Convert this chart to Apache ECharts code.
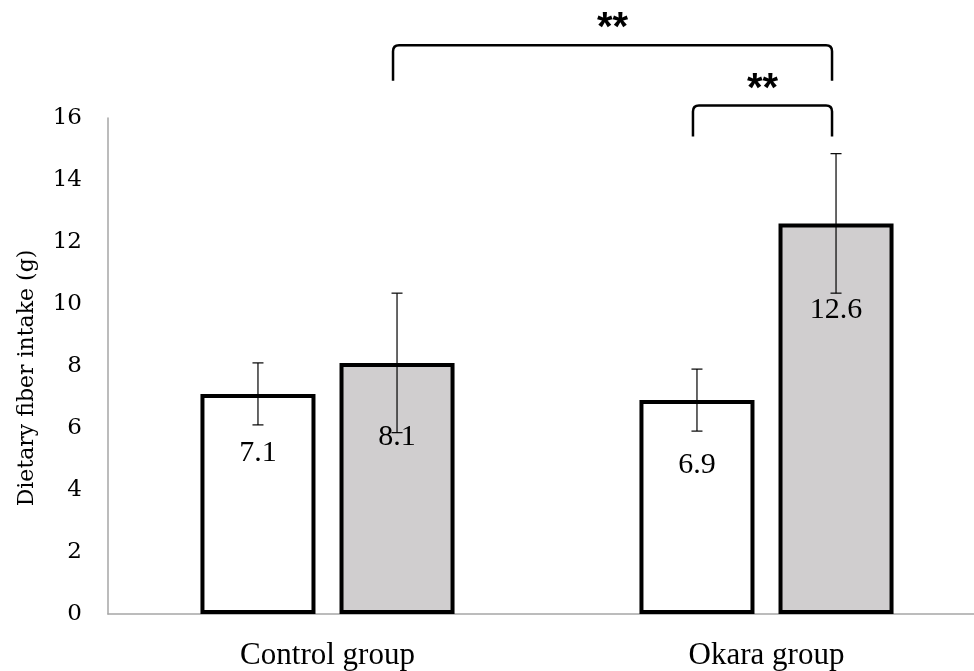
<!DOCTYPE html>
<html>
<head>
<meta charset="utf-8">
<script src="https://cdn.jsdelivr.net/npm/echarts@6/dist/echarts.min.js"></script>
<style>
  html, body { margin: 0; padding: 0; background: #fff; }
  #chart { width: 974px; height: 671px; }
</style>
</head>
<body>
<div id="chart"></div>
<script>
// Dietary fiber intake by group, before (white) and after (gray) the intervention
const categories = ['Control group', 'Okara group'];
const beforeMean = [7.1, 6.9];
const afterMean = [8.1, 12.6];
const beforeSD = [1.0, 1.0];
const afterSD = [2.25, 2.25];

// Significance brackets: [category, series] at each end, leg bottom / top in axis units
const bracketFrom = [[0, 1], [1, 0]];
const bracketTo = [[1, 1], [1, 1]];
const bracketBottom = [17.2, 15.4];
const bracketTop = [18.35, 16.4];
const bracketText = ['**', '**'];

// Layout constants
const BAR_FRAC = 0.262;      // bar width (incl. border) as a fraction of the category band
const GAP_FRAC = 0.209;      // gap between paired bars, as a fraction of bar width
const LEG_SHIFT = -4;        // bracket legs sit slightly left of bar centers
const labelInset = [[44, 50], [59, 72]]; // value label distance below bar top (px)

function barOffset(band, s) {
  const w = band * BAR_FRAC;
  const step = w * (1 + GAP_FRAC);
  return (s === 0 ? -0.5 : 0.5) * step;
}

const errorData = [];
beforeMean.forEach((m, i) => errorData.push([i, m, beforeSD[i], 0]));
afterMean.forEach((m, i) => errorData.push([i, m, afterSD[i], 1]));

const bracketData = bracketFrom.map((f, i) => [f[0], f[1], bracketTo[i][0], bracketTo[i][1], bracketBottom[i], bracketTop[i], i]);

function renderError(params, api) {
  const cat = api.value(0), mean = api.value(1), sd = api.value(2), s = api.value(3);
  const band = api.size([1, 0])[0];
  const x = api.coord([cat, mean])[0] + barOffset(band, s);
  const yHi = api.coord([cat, mean + sd])[1];
  const yLo = api.coord([cat, mean - sd])[1];
  const cap = 5.5;
  const st = { stroke: '#000', lineWidth: 1.2 };
  return {
    type: 'group',
    children: [
      { type: 'line', shape: { x1: x, y1: yHi, x2: x, y2: yLo }, style: st },
      { type: 'line', shape: { x1: x - cap, y1: yHi, x2: x + cap, y2: yHi }, style: st },
      { type: 'line', shape: { x1: x - cap, y1: yLo, x2: x + cap, y2: yLo }, style: st }
    ]
  };
}

function renderBracket(params, api) {
  const band = api.size([1, 0])[0];
  const x1 = api.coord([api.value(0), 0])[0] + barOffset(band, api.value(1)) + LEG_SHIFT;
  const x2 = api.coord([api.value(2), 0])[0] + barOffset(band, api.value(3)) + LEG_SHIFT;
  const yb = api.coord([0, api.value(4)])[1];
  const yt = api.coord([0, api.value(5)])[1];
  const r = 6;
  const path = 'M' + x1 + ' ' + yb + ' L' + x1 + ' ' + (yt + r) + ' Q' + x1 + ' ' + yt + ' ' + (x1 + r) + ' ' + yt +
    ' L' + (x2 - r) + ' ' + yt + ' Q' + x2 + ' ' + yt + ' ' + x2 + ' ' + (yt + r) + ' L' + x2 + ' ' + yb;
  return {
    type: 'group',
    children: [
      { type: 'path', shape: { pathData: path }, style: { stroke: '#000', lineWidth: 2.5, fill: null } },
      {
        type: 'text',
        style: {
          text: bracketText[api.value(6)], x: (x1 + x2) / 2, y: yt - 16,
          align: 'center', verticalAlign: 'middle',
          font: 'bold 40px "Liberation Sans", Arial, sans-serif', fill: '#000'
        }
      }
    ]
  };
}

function barSeries(values, sIdx, color) {
  return {
    type: 'bar',
    barWidth: (BAR_FRAC * 100) + '%',
    barGap: (GAP_FRAC * 100) + '%',
    data: values.map((v, i) => ({ value: v, label: { distance: labelInset[sIdx][i] } })),
    itemStyle: { color: color, borderColor: '#000', borderWidth: 4 },
    label: {
      show: true, position: 'insideTop',
      formatter: p => p.value.toFixed(1),
      fontFamily: '"Liberation Serif", "Times New Roman", serif',
      fontSize: 30, color: '#000'
    },
    emphasis: { disabled: true },
    z: 2
  };
}

const chart = echarts.init(document.getElementById('chart'), null, { renderer: 'canvas' });
chart.setOption({
  animation: false,
  backgroundColor: '#fff',
  // plot area runs slightly past the right edge of the canvas
  grid: { left: 108, width: 878, top: 118, bottom: 57, containLabel: false, outerBoundsMode: 'none' },
  xAxis: {
    type: 'category',
    data: categories,
    axisLine: { lineStyle: { color: '#a6a6a6', width: 1.5 } },
    axisTick: { show: false },
    axisLabel: {
      margin: 26, color: '#000', fontSize: 31,
      fontFamily: '"Liberation Serif", "Times New Roman", serif'
    }
  },
  yAxis: {
    type: 'value', min: 0, max: 16, interval: 2,
    name: 'Dietary fiber intake (g)',
    nameLocation: 'middle', nameGap: 70,
    nameTextStyle: {
      fontFamily: '"DejaVu Serif", serif', fontSize: 22, color: '#000',
      padding: [0, 24, 0, 0]
    },
    axisLine: { show: true, lineStyle: { color: '#a6a6a6', width: 1.5 } },
    axisTick: { show: false },
    splitLine: { show: false },
    axisLabel: { margin: 26, color: '#000', fontSize: 23, fontFamily: '"DejaVu Serif", serif' }
  },
  series: [
    barSeries(beforeMean, 0, '#ffffff'),
    barSeries(afterMean, 1, '#d0cecf'),
    {
      type: 'custom', renderItem: renderError, data: errorData,
      encode: { x: 0, y: 1 }, clip: false, z: 5, silent: true
    },
    {
      type: 'custom', renderItem: renderBracket, data: bracketData,
      encode: { x: 0, y: 5 }, clip: false, z: 5, silent: true
    }
  ]
});
</script>
</body>
</html>
